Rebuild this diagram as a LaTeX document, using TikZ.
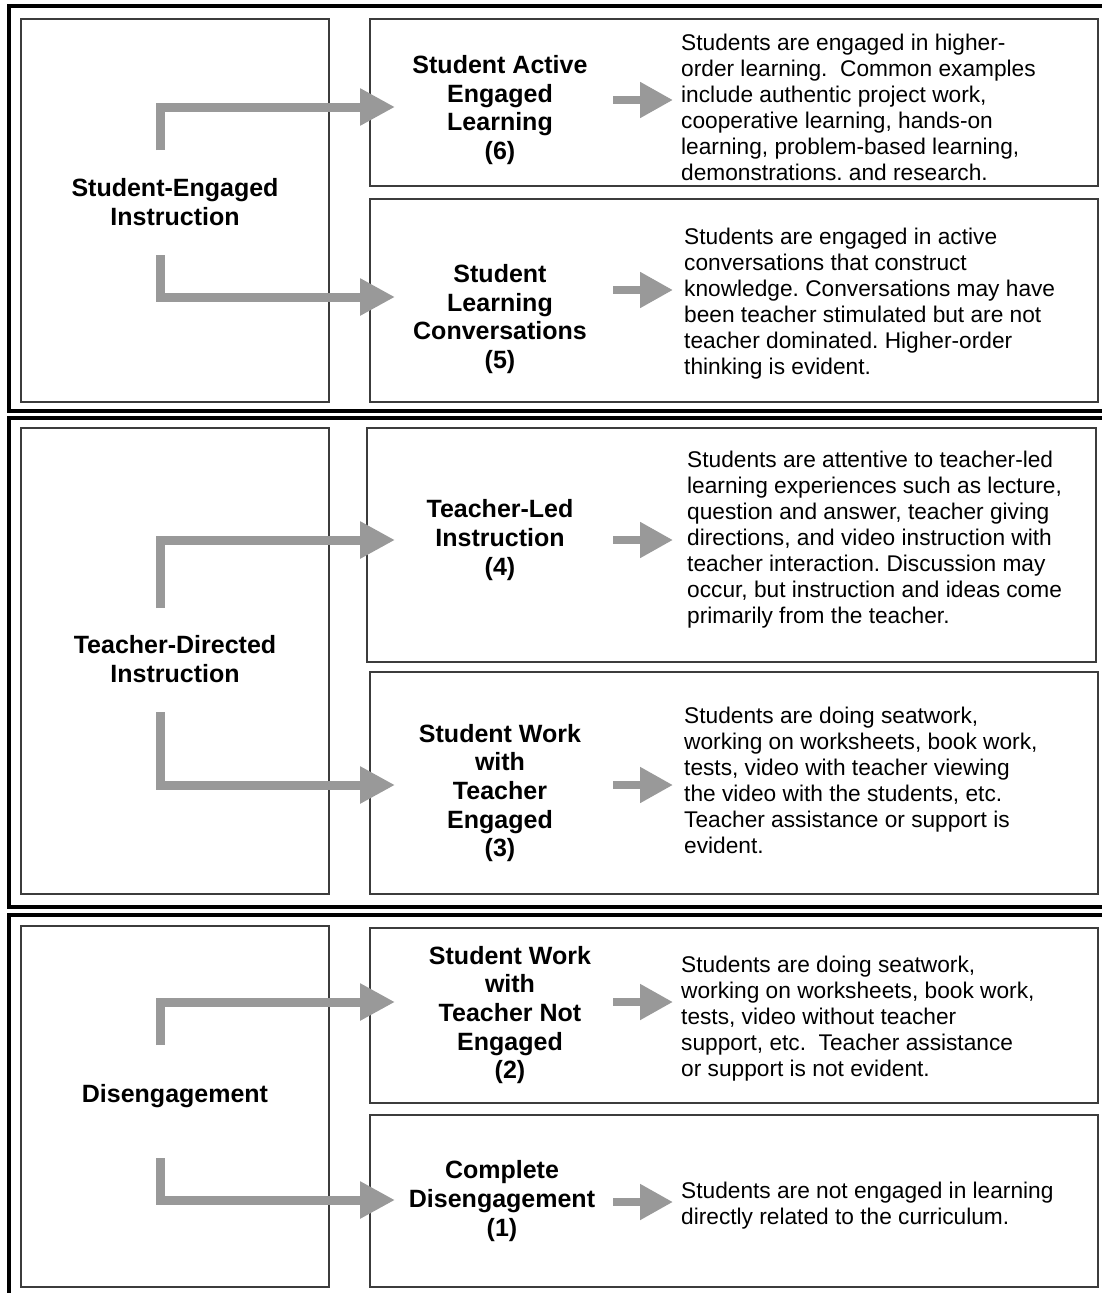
\documentclass[tikz,border=0pt]{standalone}
\usepackage{fontspec}
\setmainfont{Liberation Sans}
\usetikzlibrary{arrows.meta,fit}
\frenchspacing
\definecolor{arrowgray}{RGB}{153,153,153}
\definecolor{boxline}{RGB}{60,60,60}
\tikzset{
  panel/.style={draw=boxline, line width=2pt, inner sep=0pt, fill=none},
  frame/.style={draw=black, line width=3.5pt, inner sep=0pt},
  grouptext/.style={font=\bfseries\fontsize{25}{28.5}\selectfont, align=center, inner sep=0pt},
  leveltext/.style={font=\bfseries\fontsize{25}{28.7}\selectfont, align=center, inner sep=0pt},
  desctext/.style={font=\fontsize{22.7}{26}\selectfont, align=left, anchor=west, inner sep=0pt},
  bigarrow/.style={draw=arrowgray, line width=9pt, line join=miter,
    -{Triangle[length=35pt, width=35pt]}},
  smallarrow/.style={draw=arrowgray, line width=8pt,
    -{Triangle[length=33pt, width=34pt]}}
}
\begin{document}
\begin{tikzpicture}[x=1pt, y=-1pt]
\useasboundingbox (0,0) rectangle (1102,1293);
\clip (0,0) rectangle (1102,1293);
\fill[white] (0,0) rectangle (1102,1293);

% three outer bands
\node[frame, fit={(9,6) (1120,411)}] (band1) {};
\node[frame, fit={(9,418) (1120,907)}] (band2) {};
\node[frame, fit={(9,915) (1120,1310)}] (band3) {};

% category boxes on the left
\node[panel, fit={(21,19) (329,402)}] (cat1) {};
\node[panel, fit={(21,428) (329,894)}] (cat2) {};
\node[panel, fit={(21,926) (329,1287)}] (cat3) {};

% level boxes on the right
\node[panel, fit={(370,19) (1098,186)}] (lvl6) {};
\node[panel, fit={(370,199) (1098,402)}] (lvl5) {};
\node[panel, fit={(367,428) (1096,662)}] (lvl4) {};
\node[panel, fit={(370,672) (1098,894)}] (lvl3) {};
\node[panel, fit={(370,928) (1098,1103)}] (lvl2) {};
\node[panel, fit={(370,1115) (1098,1287)}] (lvl1) {};

% category names
\node[grouptext] (g1) at (175,202) {Student-Engaged\\Instruction};
\node[grouptext] (g2) at (175,659) {Teacher-Directed\\Instruction};
\node[grouptext] (g3) at (175,1096) {Disengagement};

% level names
\node[leveltext] (n6) at (500,110) {Student Active\\Engaged\\Learning\\(6)};
\node[leveltext] (n5) at (500,319) {Student\\Learning\\Conversations\\(5)};
\node[leveltext] (n4) at (500,540) {Teacher-Led\\Instruction\\(4)};
\node[leveltext] (n3) at (500,793) {Student Work\\with\\Teacher\\Engaged\\(3)};
\node[leveltext] (n2) at (510,1015) {Student Work\\with\\Teacher Not\\Engaged\\(2)};
\node[leveltext] (n1) at (502,1201) {Complete\\Disengagement\\(1)};

% level descriptions
\node[desctext] (d6) at (681,107) {Students are engaged in higher-\\order learning.\ \ Common examples\\include authentic project work,\\cooperative learning, hands-on\\learning, problem-based learning,\\demonstrations. and research.};
\node[desctext] (d5) at (684,304) {Students are engaged in active\\conversations that construct\\knowledge. Conversations may have\\been teacher stimulated but are not\\teacher dominated. Higher-order\\thinking is evident.};
\node[desctext] (d4) at (687,540) {Students are attentive to teacher-led\\learning experiences such as lecture,\\question and answer, teacher giving\\directions, and video instruction with\\teacher interaction. Discussion may\\occur, but instruction and ideas come\\primarily from the teacher.};
\node[desctext] (d3) at (684,780) {Students are doing seatwork,\\working on worksheets, book work,\\tests, video with teacher viewing\\the video with the students, etc.\\Teacher assistance or support is\\evident.};
\node[desctext] (d2) at (681,1019) {Students are doing seatwork,\\working on worksheets, book work,\\tests, video without teacher\\support, etc.\ \ Teacher assistance\\or support is not evident.};
\node[desctext] (d1) at (681,1206) {Students are not engaged in learning\\directly related to the curriculum.};

% elbow arrows from category to level
\coordinate (s6) at (160,150);   \coordinate (t6) at (395,107);
\coordinate (s5) at (160,255);   \coordinate (t5) at (395,297);
\coordinate (s4) at (160,608);   \coordinate (t4) at (395,540);
\coordinate (s3) at (160,712);   \coordinate (t3) at (395,785);
\coordinate (s2) at (160,1045);  \coordinate (t2) at (395,1002);
\coordinate (s1) at (160,1158);  \coordinate (t1) at (395,1200);
\foreach \k in {1,...,6} \draw[bigarrow] (s\k) |- (t\k);

% short arrows from level name to description
\coordinate (a6) at (613,100);   \coordinate (b6) at (673,100);
\coordinate (a5) at (613,290);   \coordinate (b5) at (673,290);
\coordinate (a4) at (613,540);   \coordinate (b4) at (673,540);
\coordinate (a3) at (613,785);   \coordinate (b3) at (673,785);
\coordinate (a2) at (613,1002);  \coordinate (b2) at (673,1002);
\coordinate (a1) at (613,1202);  \coordinate (b1) at (673,1202);
\foreach \k in {1,...,6} \draw[smallarrow] (a\k) -- (b\k);
\end{tikzpicture}
\end{document}
